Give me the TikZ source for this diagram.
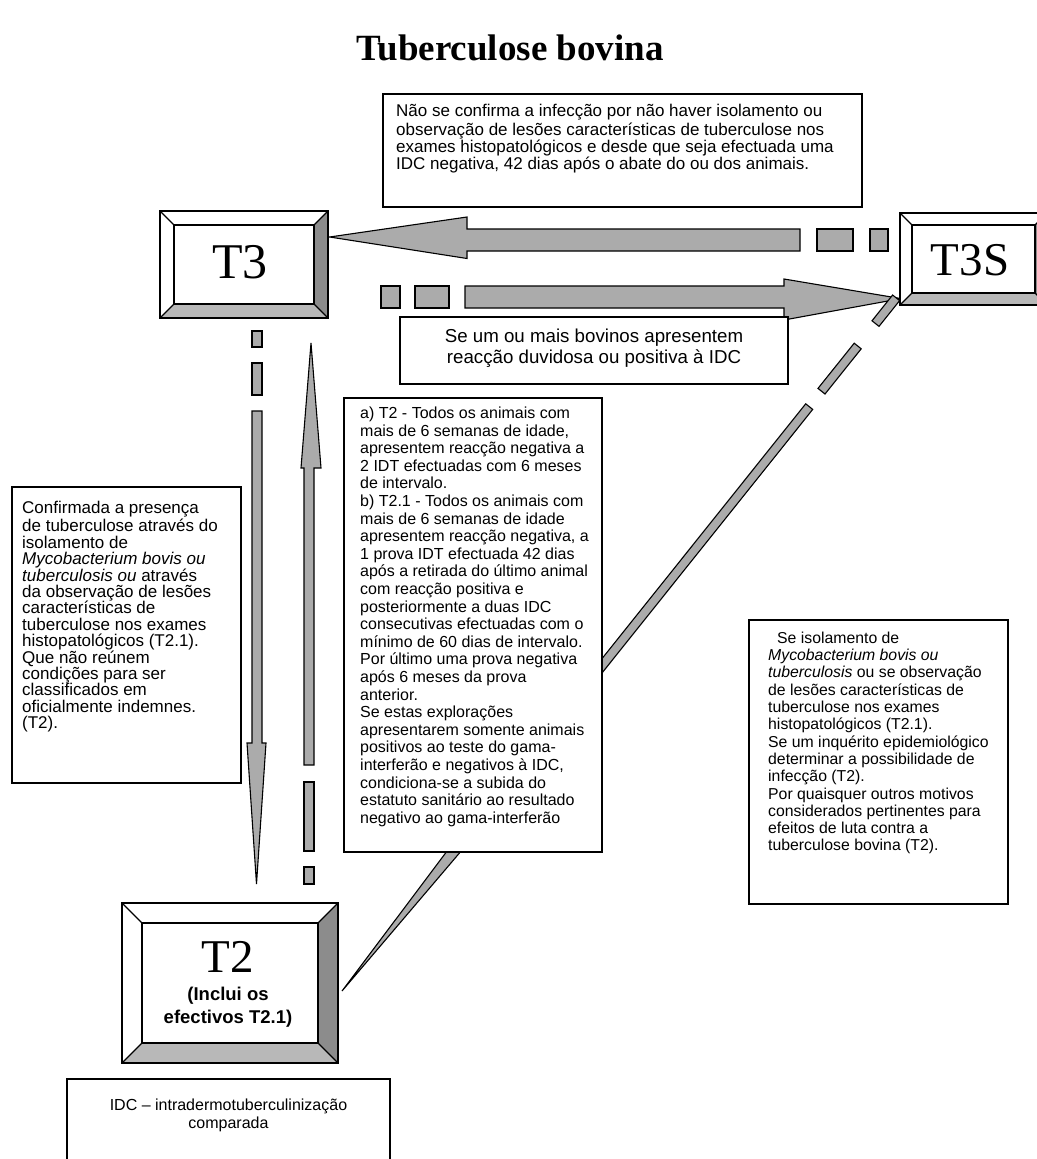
\documentclass[tikz,border=0pt]{standalone}
\usepackage{fontspec}
\setmainfont{Liberation Serif}
\newfontfamily\sansf{Liberation Sans}
\usetikzlibrary{calc}
\newcommand{\fs}[2]{\fontsize{#1}{#2}\selectfont}
\newcommand{\bevelfx}[2]{%
  \fill[bevr] (#1.north east) -- (#1.south east) -- ($(#1.south east)+(-#2,-#2)$) -- ($(#1.north east)+(-#2,#2)$) -- cycle;
  \fill[bevb] (#1.south west) -- (#1.south east) -- ($(#1.south east)+(-#2,-#2)$) -- ($(#1.south west)+(#2,-#2)$) -- cycle;
  \draw[line width=1.2pt] ($(#1.north west)+(#2,#2)$) rectangle ($(#1.south east)+(-#2,-#2)$);
  \draw[line width=1.2pt] (#1.north west) -- ($(#1.north west)+(#2,#2)$)
     (#1.north east) -- ($(#1.north east)+(-#2,#2)$)
     (#1.south west) -- ($(#1.south west)+(#2,-#2)$)
     (#1.south east) -- ($(#1.south east)+(-#2,-#2)$);
  \draw[line width=1.7pt] (#1.north west) rectangle (#1.south east);
}
\begin{document}
\begin{tikzpicture}[x=1pt,y=-1pt,line join=miter,
  bevr/.style={fill=black!45},
  bevb/.style={fill=black!28},
  arr/.style={fill=black!33,draw=black,line width=1.1pt},
  bevn/.style={draw=none,fill=white,inner sep=0pt,outer sep=0pt},
  tbox/.style={draw=black,line width=1.1pt,fill=white,inner sep=0pt,outer sep=0pt,anchor=north west},
  txt/.style={inner sep=0pt,anchor=north west,align=left,font=\sansf},
  bigserif/.style={inner sep=0pt,font=\fs{50}{54}}]
\useasboundingbox (0,0) rectangle (1036,1159);

% title
\node[inner sep=0pt,font=\fs{37}{40}\bfseries] (title) at (510,48) {Tuberculose bovina};

% ---------- arrows ----------
% T3S -> T3 (upper horizontal)
\draw[arr] (329.6,237) -- (467,217) -- (467,229) -- (800,229) -- (800,251) -- (467,251) -- (467,258.5) -- cycle;
\draw[arr] (817,229) rectangle (853,251);
\draw[arr] (870,229) rectangle (888,251);
% T3 -> T3S (lower horizontal)
\draw[arr] (901,298.6) -- (784,279) -- (784,286) -- (465,286) -- (465,308) -- (784,308) -- (784,320) -- cycle;
\draw[arr] (381,286) rectangle (400,308);
\draw[arr] (415,286) rectangle (449,308);
% T3 -> T2 (down)
\draw[arr] (256.5,884) -- (247,743) -- (252,743) -- (252,411) -- (262,411) -- (262,743) -- (266,743) -- cycle;
\draw[arr] (252,331) rectangle (262,347);
\draw[arr] (252,363) rectangle (262,395);
% T2 -> T3 (up)
\draw[arr] (311,343) -- (301,468) -- (304,468) -- (304,765) -- (314,765) -- (314,468) -- (321,468) -- cycle;
\draw[arr] (304,782) rectangle (314,851);
\draw[arr] (304,867) rectangle (314,884);
% T3S -> T2 (diagonal)
\draw[arr] (342,991) -- (491.2,815.7) -- (489.2,814.1) -- (812.7,409.4) -- (805.7,403.8) -- (482.2,808.5) -- (480.2,806.9) -- cycle;
\draw[arr] (825.0,394.0) -- (861.2,348.8) -- (854.2,343.2) -- (818.0,388.4) -- cycle;
\draw[arr] (879.0,326.4) -- (899.6,300.6) -- (892.6,295.0) -- (872.0,320.8) -- cycle;

% ---------- bevelled status boxes ----------
\node[bevn,minimum width=168pt,minimum height=107pt] (T3) at (244,264.5) {};
\bevelfx{T3}{14}
\node[bigserif] (T3lab) at (240,262) {T3};

\node[bevn,minimum width=147pt,minimum height=92pt] (T3S) at (973.5,259) {};
\bevelfx{T3S}{12}
\node[inner sep=0pt,font=\fs{47}{50}] (T3Slab) at (970,260) {T3S};

\node[bevn,minimum width=216pt,minimum height=160pt] (T2) at (230,983) {};
\bevelfx{T2}{20}
\node[inner sep=0pt,font=\fs{47}{50}] (T2lab) at (228,957) {T2};
\node[inner sep=0pt,align=center,font=\sansf\bfseries\fs{18.5}{23}] (T2sub) at (228,1007) {(Inclui os\\efectivos T2.1)};

% ---------- text boxes ----------
\node[tbox,minimum width=479pt,minimum height=113pt] (topbox) at (383,94) {};
\node[txt,font=\sansf\fs{17}{16}] (toptext) at (396,104.4) {\strut Não se confirma a infecção por não haver isolamento ou\\
observação de lesões características de tuberculose nos\\
exames histopatológicos e desde que seja efectuada uma\\
IDC negativa, 42 dias após o abate do ou dos animais.};

\node[tbox,minimum width=388pt,minimum height=67pt] (sebox) at (400,317) {};
\node[txt,anchor=north,align=center,font=\sansf\fs{18.7}{20.5}] (setext) at (594,328.3) {\strut Se um ou mais bovinos apresentem\\reacção duvidosa ou positiva à IDC};

\node[tbox,minimum width=229pt,minimum height=296pt] (leftbox) at (12,487) {};
\node[txt,font=\sansf\fs{17}{16.4}] (lefttext) at (22,501) {\strut Confirmada a presença\\
de tuberculose através do\\
isolamento  de\\
\textit{Mycobacterium bovis ou}\\
\textit{tuberculosis ou}  através\\
da observação de lesões\\
características de\\
tuberculose  nos exames\\
histopatológicos (T2.1).\\
Que não reúnem\\
condições para ser\\
classificados em\\
oficialmente indemnes.\\
(T2).};

\node[tbox,minimum width=258pt,minimum height=454pt] (midbox) at (344,398) {};
\node[txt,font=\sansf\fs{16}{17.6}] (midtext) at (360,406) {\strut a) T2 - Todos os animais com\\
mais de 6 semanas de idade,\\
apresentem reacção negativa a\\
2 IDT efectuadas com 6 meses\\
de intervalo.\\
b) T2.1 - Todos os animais com\\
mais de 6 semanas de idade\\
apresentem reacção negativa, a\\
1 prova IDT efectuada 42 dias\\
após a retirada do último animal\\
com reacção positiva e\\
posteriormente a duas IDC\\
consecutivas efectuadas com o\\
mínimo de 60 dias de intervalo.\\
Por último uma prova negativa\\
após  6 meses da prova\\
anterior.\\
Se estas explorações\\
apresentarem somente animais\\
positivos ao  teste do gama-\\
interferão e negativos à IDC,\\
condiciona-se a subida do\\
estatuto sanitário ao resultado\\
negativo ao gama-interferão};

\node[tbox,minimum width=259pt,minimum height=284pt] (rightbox) at (749,620) {};
\node[txt,font=\sansf\fs{15.8}{17.3}] (righttext) at (768,631) {\strut\hspace*{9pt}Se isolamento de\\
\textit{Mycobacterium bovis ou}\\
\textit{tuberculosis} ou se observação\\
de lesões características de\\
tuberculose  nos exames\\
histopatológicos (T2.1).\\
Se um inquérito epidemiológico\\
determinar  a possibilidade de\\
infecção (T2).\\
Por quaisquer outros motivos\\
considerados pertinentes para\\
efeitos de luta contra a\\
tuberculose bovina (T2).};

\node[tbox,minimum width=323pt,minimum height=95pt] (botbox) at (67,1079) {};
\node[txt,anchor=north,align=center,font=\sansf\fs{16}{18}] (bottext) at (228.5,1097.7) {\strut IDC – intradermotuberculinização\\comparada};
\end{tikzpicture}
\end{document}
